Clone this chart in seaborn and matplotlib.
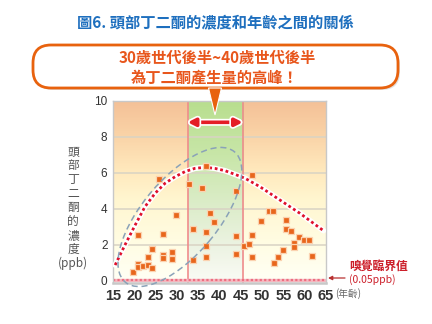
import numpy as np
import matplotlib
matplotlib.use("Agg")
import matplotlib.pyplot as plt
import seaborn as sns
import matplotlib.patheffects as pe
from matplotlib.patches import FancyBboxPatch, Polygon, Ellipse
from matplotlib.transforms import IdentityTransform

# ---------------- data ----------------
ages = [19.8, 20.8, 20.8, 22.0, 23.1, 23.1, 24.2, 24.2, 20.8, 25.8,
        26.8, 26.8, 26.8, 28.8, 28.8, 29.8, 32.8, 33.7, 33.7, 35.8,
        36.8, 36.8, 36.8, 36.8, 37.8, 38.8, 43.8, 43.8, 43.8, 45.7,
        46.9, 47.7, 47.7, 47.7, 51.7, 52.6, 49.7, 55.7, 55.7, 56.8,
        58.7, 57.6, 57.6, 59.8, 60.9, 54.8, 53.8, 52.8, 61.7]
conc = [0.47, 0.93, 0.78, 0.82, 0.86, 1.33, 0.69, 1.78, 2.52, 5.63,
        2.59, 1.41, 1.24, 1.58, 1.19, 3.65, 5.37, 2.87, 1.15, 5.17,
        6.37, 2.72, 1.93, 1.30, 3.74, 3.24, 4.98, 2.46, 1.50, 1.95,
        2.02, 5.89, 2.52, 1.33, 3.85, 3.85, 3.32, 3.35, 2.89, 2.78,
        2.41, 2.08, 1.89, 2.24, 2.26, 1.71, 1.33, 0.96, 1.39]

trend_age = [15.5, 17.8, 20.2, 22.5, 24.9, 27.2, 29.6, 31.9, 34.2, 36.6,
             38.9, 41.3, 43.6, 46.0, 49.5, 54.2, 58.9, 64.4]
trend_conc = [0.87, 1.98, 3.09, 4.11, 4.86, 5.41, 5.78, 6.06, 6.24, 6.30,
              6.24, 6.11, 5.91, 5.69, 5.22, 4.48, 3.74, 2.78]

x_ticks = [15, 20, 25, 30, 35, 40, 45, 50, 55, 60, 65]
y_ticks = [0, 2, 4, 6, 8, 10]
peak_band = [32.5, 45.5]
threshold = 0.05
cluster_center = (30.7, 3.54)

title = "圖6. 頭部丁二酮的濃度和年齡之間的關係"
callout_lines = ["30歲世代後半~40歲世代後半", "為丁二酮產生量的高峰！"]
ylabel_parts = list("頭部丁二酮的濃度") + ["(ppb)"]
threshold_label = "嗅覺臨界值"
threshold_value = "(0.05ppb)"
x_unit = "(年齡)"

# ---------------- style ----------------
sns.set_theme(style="white")
plt.rcParams["font.family"] = ["Noto Sans CJK TC", "DejaVu Sans"]

W, H = 432, 324
fig = plt.figure(figsize=(W / 100, H / 100), dpi=100)
fig.patch.set_facecolor("white")


def fy(py):
    return 1 - py / H


ax = fig.add_axes([113 / W, fy(282.5), 213 / W, 181.8 / H])
ax.set_xlim(x_ticks[0], x_ticks[-1])
ax.set_ylim(-0.1, 10)


def gradient(stops, n=256):
    t = np.linspace(0, 1, n)
    pos = [s[0] for s in stops]
    cols = np.array([s[1] for s in stops]) / 255.0
    arr = np.stack([np.interp(t, pos, cols[:, i]) for i in range(3)], axis=-1)
    return arr[:, None, :]


orange_stops = [(0.0, (255, 255, 246)), (0.2, (255, 253, 228)), (0.45, (255, 246, 208)),
                (0.62, (255, 232, 188)), (0.8, (250, 212, 168)), (1.0, (244, 192, 150))]
green_stops = [(0.0, (250, 251, 245)), (0.2, (236, 243, 226)), (0.45, (218, 236, 198)),
               (0.7, (200, 230, 168)), (1.0, (184, 222, 142))]
ax.imshow(gradient(orange_stops), extent=(x_ticks[0], x_ticks[-1], -0.1, 10),
          origin="lower", aspect="auto", zorder=0)
ax.imshow(gradient(green_stops), extent=(peak_band[0], peak_band[1], -0.1, 10),
          origin="lower", aspect="auto", zorder=0.1)
ax.set_xlim(x_ticks[0], x_ticks[-1])
ax.set_ylim(-0.1, 10)

for yv in y_ticks[1:-1]:
    ax.axhline(yv, color="#d9d3c4", lw=1.3, alpha=0.85, zorder=0.5)

for xv in peak_band:
    ax.axvline(xv, color="#f08c8c", lw=1.2, zorder=1)

ax.axhline(threshold, color="#f6b8c0", lw=2.4, zorder=1.2)
ax.axhline(threshold, color="#ec6e80", lw=1.6, ls=(0, (1, 1)), zorder=1.3)

# ellipse around the 30s-40s cluster (sized in display pixels)
cdisp = ax.transData.transform(cluster_center)
ell = Ellipse(cdisp, width=170, height=76, angle=50, transform=IdentityTransform(),
              fill=False, edgecolor="#8aa2b8", lw=1.1, ls=(0, (4, 2.5)), zorder=2,
              clip_on=False)
fig.add_artist(ell)

# trend curve
sns.lineplot(x=trend_age, y=trend_conc, sort=False, color="white", lw=4, ax=ax, zorder=3)
sns.lineplot(x=trend_age, y=trend_conc, sort=False, color="#e0102c", lw=2.0,
             linestyle=(0, (1, 1)), ax=ax, zorder=3.5)

# scatter points
sns.scatterplot(x=ages, y=conc, marker="s", s=24, color="#e8661c",
                edgecolor="#fbd2b0", linewidth=0.9, ax=ax, zorder=5)

# double arrow
ann = ax.annotate("", xy=(peak_band[1], 8.8), xytext=(peak_band[0], 8.8),
                  arrowprops=dict(arrowstyle="<|-|>", color="#e41e26", lw=2.6,
                                  mutation_scale=11, shrinkA=0, shrinkB=0), zorder=6)
ann.arrow_patch.set_path_effects([pe.Stroke(linewidth=5, foreground="white"), pe.Normal()])

# axes styling
ax.set_xticks(x_ticks)
ax.set_yticks(y_ticks)
ax.set_xticklabels([str(v) for v in x_ticks], fontsize=10.5, fontweight="bold",
                   color="#333333", family=["Liberation Sans", "DejaVu Sans"])
ax.set_yticklabels([str(v) for v in y_ticks], fontsize=8.5, color="#333333",
                   family=["Liberation Sans", "DejaVu Sans"])
ax.tick_params(axis="x", length=0, pad=5)
ax.tick_params(axis="y", length=0, pad=4)
for side, sp in ax.spines.items():
    sp.set_color("#c8c8c8")
    sp.set_linewidth(1.0)
ax.spines["bottom"].set_linewidth(1.8)
ax.set_xlabel("")
ax.set_ylabel("")

# vertical y label
for i, part in enumerate(ylabel_parts):
    fig.text(73 / W, fy(152 + i * 13.9), part, ha="center", va="center",
             fontsize=8.5, color="#555555")

# x unit
fig.text(335 / W, fy(294), x_unit, ha="left", va="center", fontsize=7, color="#666666")

# threshold annotation
fig.text(349 / W, fy(266), threshold_label, ha="left", va="center", fontsize=8.5,
         fontweight="bold", color="#cc1f2a")
fig.text(349 / W, fy(280), threshold_value, ha="left", va="center", fontsize=7.5,
         color="#cc1f2a")
ax.annotate("", xy=(328, H - 278), xytext=(345, H - 278), xycoords="figure pixels",
            textcoords="figure pixels",
            arrowprops=dict(arrowstyle="-|>", color="#b83030", lw=0.9,
                            mutation_scale=6, shrinkA=0, shrinkB=0))

# title
fig.text(215 / W, fy(22), title, ha="center", va="center", fontsize=11,
         fontweight="bold", color="#1e6fbe")

# callout box
shadow = FancyBboxPatch((35, H - 90), 365, 43, boxstyle="round,pad=0,rounding_size=18",
                        transform=IdentityTransform(), facecolor="#d0d0d0",
                        edgecolor="none", alpha=0.6, zorder=1)
box = FancyBboxPatch((33, H - 88), 365, 43, boxstyle="round,pad=0,rounding_size=18",
                     transform=IdentityTransform(), facecolor="white",
                     edgecolor="#e8620e", lw=2.0, zorder=2)
fig.add_artist(shadow)
fig.add_artist(box)
tri = Polygon([(208.5, H - 88), (221.5, H - 88), (215, H - 115)], closed=True,
              transform=IdentityTransform(), facecolor="#e8620e", edgecolor="white",
              lw=0.8, zorder=7)
fig.add_artist(tri)
fig.text(217 / W, fy(58), callout_lines[0], ha="center", va="center", fontsize=11,
         fontweight="bold", color="#e8561c", zorder=8)
fig.text(215 / W, fy(77), callout_lines[1], ha="center", va="center", fontsize=11,
         fontweight="bold", color="#e8561c", zorder=8)

fig.savefig("out.png", dpi=100)
